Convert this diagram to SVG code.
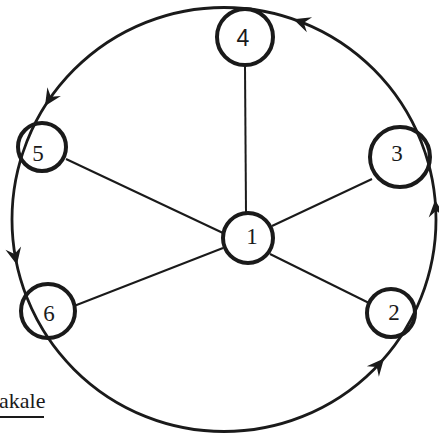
<svg xmlns="http://www.w3.org/2000/svg" width="439" height="436" viewBox="0 0 439 436">
<style>
.node{fill:#fff;stroke:#1a1a1a;stroke-width:4}
.lbl{font-family:"Liberation Serif",serif;font-size:23px;fill:#1a1a1a;text-anchor:middle;dominant-baseline:central}
.spoke{stroke:#1a1a1a;stroke-width:2;fill:none}
.rim{stroke:#1a1a1a;stroke-width:2.8;fill:none}
.ah{fill:#1a1a1a}
</style>
<defs>
<path id="ah" d="M0,0 L-17,-8 L-11,0 L-17,8 Z"/>
<clipPath id="nodeclip">
<circle cx="42" cy="147" r="26"/>
<circle cx="48" cy="311" r="29"/>
<circle cx="400" cy="157" r="32"/>
<circle cx="391" cy="313" r="26"/>
</clipPath>
</defs>
<rect width="439" height="436" fill="#fff"/>
<g id="connectors">
<circle class="rim" cx="224" cy="219.5" r="212"/>
<line class="spoke" x1="245" y1="66" x2="246" y2="213"/>
<line class="spoke" x1="66" y1="159" x2="223" y2="233"/>
<line class="spoke" x1="74" y1="306" x2="223" y2="248"/>
<line class="spoke" x1="272" y1="226" x2="372" y2="179"/>
<line class="spoke" x1="270" y1="254" x2="369" y2="303"/>
<use class="ah" href="#ah" transform="translate(293.4,19.2) rotate(-160.9)"/>
<use class="ah" href="#ah" transform="translate(45,106) rotate(122.4)"/>
<use class="ah" href="#ah" transform="translate(16.9,264.7) rotate(77.7)"/>
<use class="ah" href="#ah" transform="translate(384,358.6) rotate(-49)"/>
<use class="ah" href="#ah" transform="translate(435.1,199.9) rotate(-95.3)"/>
</g>
<g id="node1"><circle class="node" cx="248" cy="238" r="25"/><text class="lbl" x="252" y="236">1</text></g>
<g id="node2"><circle class="node" cx="391" cy="313" r="24"/><text class="lbl" x="394" y="312">2</text></g>
<g id="node3"><circle class="node" cx="400" cy="157" r="30"/><text class="lbl" x="397" y="153">3</text></g>
<g id="node4"><circle class="node" cx="245" cy="37" r="28"/><text class="lbl" x="243" y="38" style="font-family:'Liberation Sans',sans-serif">4</text></g>
<g id="node5"><circle class="node" cx="42" cy="147" r="24"/><text class="lbl" x="38" y="153">5</text></g>
<g id="node6"><circle class="node" cx="48" cy="311" r="27"/><text class="lbl" x="49" y="313">6</text></g>
<g id="rim-over" clip-path="url(#nodeclip)">
<circle class="rim" cx="224" cy="219.5" r="212"/>
</g>
<text x="-1" y="408" style="font-family:'Liberation Serif',serif;font-size:22px;fill:#1a1a1a">akale</text>
<line x1="0" y1="417" x2="44" y2="417" stroke="#1a1a1a" stroke-width="2"/>
</svg>
